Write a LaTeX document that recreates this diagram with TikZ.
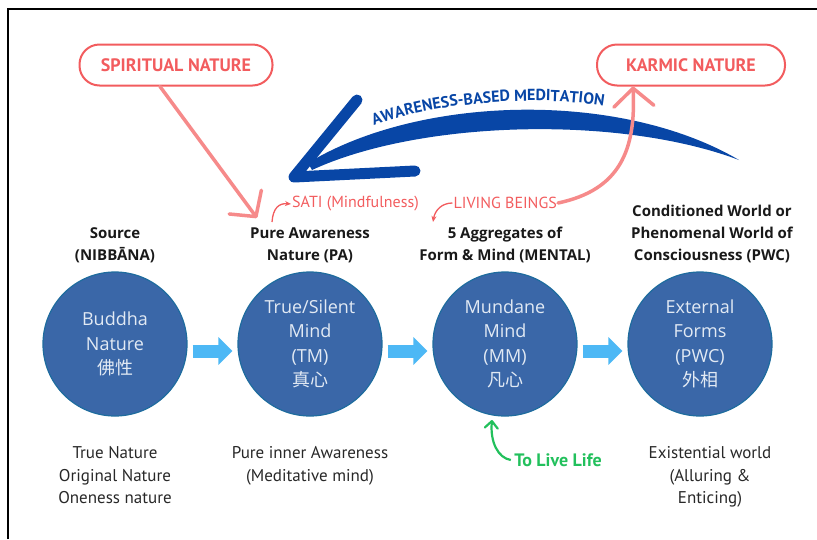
\documentclass[tikz,border=0pt]{standalone}
\usepackage{fontspec}
\setmainfont{Open Sans}
\newfontfamily\ptsans{PT Sans}
\newfontfamily\cjkfont{Noto Sans CJK SC}
\usetikzlibrary{calc,positioning,arrows.meta,decorations.text}
\tikzset{>=stealth}

\definecolor{circfill}{RGB}{58,103,168}
\definecolor{circline}{RGB}{30,108,158}
\definecolor{circtext}{RGB}{226,234,244}
\definecolor{flowblue}{RGB}{77,184,245}
\definecolor{navy}{RGB}{8,70,166}
\definecolor{redlabel}{RGB}{242,92,94}
\definecolor{pinkline}{RGB}{246,138,138}
\definecolor{livegreen}{RGB}{34,192,92}
\definecolor{greytext}{RGB}{40,40,40}

\tikzset{
  circ/.style={circle, minimum size=144pt, inner sep=0pt, fill=circfill, draw=circline,
    line width=1.2pt, text=circtext, align=center, font=\fontsize{18}{24.5}\selectfont},
  header/.style={align=center, inner sep=0pt, text=black!90,
    font=\bfseries\fontsize{15}{22}\selectfont},
  note/.style={align=center, inner sep=0pt, text=greytext,
    font=\ptsans\fontsize{17}{22.5}\selectfont},
  redbox/.style={draw=redlabel, line width=2pt, rounded corners=20pt, minimum height=41pt,
    text=redlabel, font=\ptsans\bfseries\fontsize{18}{18}\selectfont},
  redtag/.style={text=redlabel, inner sep=1pt, font=\ptsans\fontsize{16}{16}\selectfont},
  flow/.style={draw=flowblue, line width=13pt, -{Triangle[length=14pt,width=27pt]},
    shorten <=5pt, shorten >=5pt},
  pinkarrow/.style={draw=pinkline, line width=3.5pt, line cap=round,
    -{Straight Barb[round,length=18pt,width=40pt]}},
  redarrow/.style={draw=redlabel, line width=1.3pt, -{Stealth[length=6pt,width=5pt]}},
  greenarrow/.style={draw=livegreen, line width=2.2pt, -{Straight Barb[round,length=7pt,width=13pt]}},
}

\begin{document}
\begin{tikzpicture}[x=1pt,y=-1pt]
    \useasboundingbox (0,0) rectangle (817,539);
    \draw[line width=2.5pt] (8,539) -- (8,9) -- (817,9);

    % the four stages
    \node[circ] (bn) at (115,344) {Buddha\\Nature\\{\cjkfont 佛性}};
    \node[circ] (tm) at (310,344) {True/Silent\\Mind\\(TM)\\{\cjkfont 真心}};
    \node[circ] (mm) at (505,344) {Mundane\\Mind\\(MM)\\{\cjkfont 凡心}};
    \node[circ] (pwc) at (700,344) {External\\Forms\\(PWC)\\{\cjkfont 外相}};

    \draw[flow] ([yshift=-7pt]bn.east) -- ([yshift=-7pt]tm.west);
    \draw[flow] ([yshift=-7pt]tm.east) -- ([yshift=-7pt]mm.west);
    \draw[flow] ([yshift=-7pt]mm.east) -- ([yshift=-7pt]pwc.west);

    \node[header, above=8pt of bn] (bnhead) {Source\\(NIBBĀNA)};
    \node[header, above=8pt of tm] (tmhead) {Pure Awareness\\Nature (PA)};
    \node[header, above=8pt of mm] (mmhead) {5 Aggregates of\\Form \& Mind (MENTAL)};
    \node[header, above=8pt of pwc, xshift=12pt] (pwchead) {Conditioned World or\\Phenomenal World of\\Consciousness (PWC)};

    \node[note, below=30pt of bn] (bnnote) {True Nature\\Original Nature\\Oneness nature};
    \node[note, below=30pt of tm] (tmnote) {Pure inner Awareness\\(Meditative mind)};
    \node[note, below=30pt of pwc, xshift=10pt] (pwcnote) {Existential world\\(Alluring \&\\Enticing)};

    % top labels
    \node[redbox, minimum width=193pt] (spirit) at (176,65) {SPIRITUAL NATURE};
    \node[redbox, minimum width=188pt] (karmic) at (691,65) {KARMIC NATURE};
    \node[redtag, anchor=west] (sati) at (291,204) {SATI (Mindfulness)};
    \node[redtag, anchor=east] (living) at (558,203) {LIVING BEINGS};

    \coordinate (satifrom) at (272,222);
    \coordinate (livingto) at (433,222);
    \coordinate (spirittip) at (257,218);
    \coordinate (liveto) at (492,420);

    % awareness-based meditation
    \fill[navy] (308,163) .. controls (420,95) and (620,90) .. (739,160)
      .. controls (620,115) and (420,120) .. (312,170) -- cycle;
    \draw[navy, line width=11pt, line cap=round, line join=round] (357,100) -- (294,177) -- (415,171);
    \path[decorate, decoration={text along path, text align=center, text color=navy,
      text={|\ptsans\bfseries\fontsize{16}{16}\selectfont|AWARENESS-BASED MEDITATION}}]
      (368,128) .. controls (430,102) and (540,94) .. (610,107);

    \draw[pinkarrow] ([xshift=-16pt]spirit.south) -- (spirittip);
    \draw[pinkarrow] (living.east) .. controls (620,190) and (636,150) .. ([xshift=-58pt]karmic.south);
    \draw[redarrow] (satifrom) .. controls (273,208) and (279,203) .. (sati.west);
    \draw[redarrow] (living.west) .. controls (442,203) and (435,210) .. (livingto);

    \node[text=livegreen, font=\ptsans\bfseries\fontsize{18}{18}\selectfont] (live) at (558,460) {To Live Life};
    \draw[greenarrow] (live.west) .. controls (498,458) and (490,442) .. (liveto);
  \end{tikzpicture}
\end{document}
